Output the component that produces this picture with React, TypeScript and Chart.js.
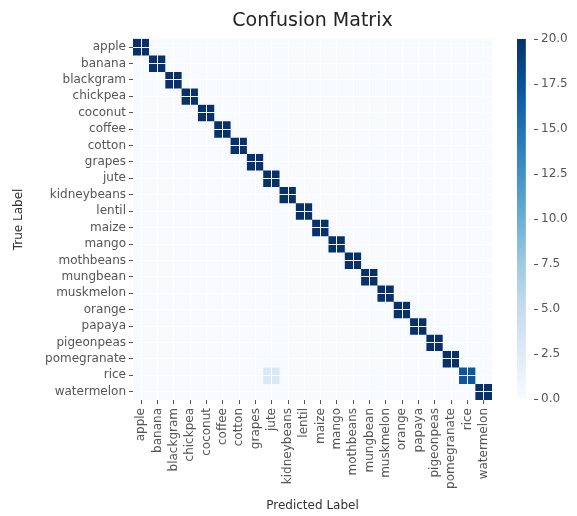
import React, { useEffect, useRef } from "react";
import { Chart, registerables } from "chart.js";

Chart.register(...registerables);

const CLASSES = [
  "apple", "banana", "blackgram", "chickpea", "coconut", "coffee", "cotton",
  "grapes", "jute", "kidneybeans", "lentil", "maize", "mango", "mothbeans",
  "mungbean", "muskmelon", "orange", "papaya", "pigeonpeas", "pomegranate",
  "rice", "watermelon",
];
// correct predictions per true class (diagonal)
const DIAGONAL = [20, 20, 20, 20, 20, 20, 20, 20, 20, 20, 20, 20, 20, 20, 20, 20, 20, 20, 20, 20, 17, 20];
// misclassifications: true class -> predicted class
const OFF_DIAGONAL_TRUE = ["rice"];
const OFF_DIAGONAL_PRED = ["jute"];
const OFF_DIAGONAL_COUNT = [3];
const VMAX = 20;
const COLORBAR_TICKS = [0, 2.5, 5, 7.5, 10, 12.5, 15, 17.5, 20];

const BLUES = ["#f7fbff", "#deebf7", "#c6dbef", "#9ecae1", "#6baed6", "#4292c6", "#2171b5", "#08519c", "#08306b"];

function hexToRgb(h: string) {
  const n = parseInt(h.slice(1), 16);
  return [(n >> 16) & 255, (n >> 8) & 255, n & 255];
}
function blues(t: number) {
  const x = Math.max(0, Math.min(1, t)) * (BLUES.length - 1);
  const i = Math.min(BLUES.length - 2, Math.floor(x));
  const f = x - i;
  const a = hexToRgb(BLUES[i]);
  const b = hexToRgb(BLUES[i + 1]);
  const c = a.map((v, k) => Math.round(v + (b[k] - v) * f));
  return `rgb(${c[0]},${c[1]},${c[2]})`;
}

const FONT = "DejaVu Sans";
const TICK_COLOR = "#555";
const TEXT_COLOR = "#333";

export default function App() {
  const mainRef = useRef<HTMLCanvasElement | null>(null);
  const cbRef = useRef<HTMLCanvasElement | null>(null);

  useEffect(() => {
    Chart.defaults.font.family = FONT;
    const matrix = CLASSES.map((_, r) => CLASSES.map((_, c) => (r === c ? DIAGONAL[r] : 0)));
    OFF_DIAGONAL_TRUE.forEach((t, k) => {
      matrix[CLASSES.indexOf(t)][CLASSES.indexOf(OFF_DIAGONAL_PRED[k])] = OFF_DIAGONAL_COUNT[k];
    });

    const datasets = CLASSES.map((name, r) => ({
      label: name,
      data: matrix[r].map(() => [r - 0.5, r + 0.5]),
      backgroundColor: matrix[r].map((v) => blues(v / VMAX)),
      borderWidth: 0,
      barPercentage: 1,
      categoryPercentage: 1,
      grouped: false,
    }));

    const tickFont = { family: FONT, size: 12 };

    const main = new Chart(mainRef.current!, {
      type: "bar",
      data: { labels: CLASSES, datasets: datasets as any },
      options: {
        animation: false,
        responsive: false,
        layout: { padding: { left: 0, right: 85, top: 0, bottom: 0 } },
        plugins: {
          legend: { display: false },
          tooltip: { enabled: false },
          title: {
            display: true,
            text: "Confusion Matrix",
            fullSize: false,
            color: "#222",
            font: { family: FONT, size: 19, weight: "normal" },
            padding: { top: 10, bottom: 6 },
          },
        },
        scales: {
          x: {
            type: "category",
            offset: true,
            grid: { z: 1, color: "rgba(255,255,255,0.95)", lineWidth: 1, offset: false, tickColor: TICK_COLOR, tickLength: 4 },
            border: { display: false },
            ticks: { minRotation: 90, maxRotation: 90, autoSkip: false, font: tickFont, color: TICK_COLOR, padding: 4 },
            title: { display: true, text: "Predicted Label", color: TEXT_COLOR, font: tickFont, padding: { top: 0, bottom: 3 } },
            afterFit: (s: any) => { s.height = 116; },
          },
          y: {
            type: "linear",
            reverse: true,
            min: -0.5,
            max: CLASSES.length - 0.5,
            grid: { z: 1, color: "rgba(255,255,255,0.95)", lineWidth: 1, tickColor: TICK_COLOR, tickLength: 4 },
            border: { display: false },
            afterBuildTicks: (s: any) => { s.ticks = CLASSES.map((_, i) => ({ value: i })); },
            ticks: {
              autoSkip: false,
              font: tickFont,
              color: TICK_COLOR,
              padding: 3,
              callback: (_v: any, i: number) => CLASSES[i],
            },
            title: { display: true, text: "True Label", color: TEXT_COLOR, font: tickFont, padding: { top: 12, bottom: 0 } },
            afterFit: (s: any) => { s.width = 133; },
          },
        },
      } as any,
    });

    const cb = new Chart(cbRef.current!, {
      type: "bar",
      data: {
        labels: ["colorbar"],
        datasets: [
          {
            data: [[0, VMAX]] as any,
            barPercentage: 1,
            categoryPercentage: 1,
            borderWidth: 0,
            backgroundColor: (ctx: any) => {
              const ca = ctx.chart.chartArea;
              if (!ca) return BLUES[0];
              const g = ctx.chart.ctx.createLinearGradient(0, ca.bottom, 0, ca.top);
              BLUES.forEach((c, i) => g.addColorStop(i / (BLUES.length - 1), c));
              return g;
            },
          },
        ],
      },
      options: {
        animation: false,
        responsive: false,
        layout: { padding: { left: 17, right: 0, top: 39, bottom: 117 } },
        plugins: { legend: { display: false }, tooltip: { enabled: false }, title: { display: false } },
        scales: {
          x: { display: false, offset: false },
          y: {
            position: "right",
            min: 0,
            max: VMAX,
            grid: { drawOnChartArea: false, tickColor: TICK_COLOR, tickLength: 4 },
            border: { display: false },
            afterBuildTicks: (s: any) => { s.ticks = COLORBAR_TICKS.map((v) => ({ value: v })); },
            ticks: { font: tickFont, color: TICK_COLOR, padding: 3, callback: (v: any) => Number(v).toFixed(1) },
            afterFit: (s: any) => { s.width = 43; },
          },
        },
      } as any,
    });

    return () => {
      main.destroy();
      cb.destroy();
    };
  }, []);

  return (
    <div style={{ position: "absolute", left: 0, top: 0, width: 577, height: 516, background: "#fff" }}>
      <canvas ref={mainRef} width={577} height={516} style={{ position: "absolute", left: 0, top: 0 }} />
      <canvas ref={cbRef} width={77} height={516} style={{ position: "absolute", left: 500, top: 0 }} />
    </div>
  );
}
